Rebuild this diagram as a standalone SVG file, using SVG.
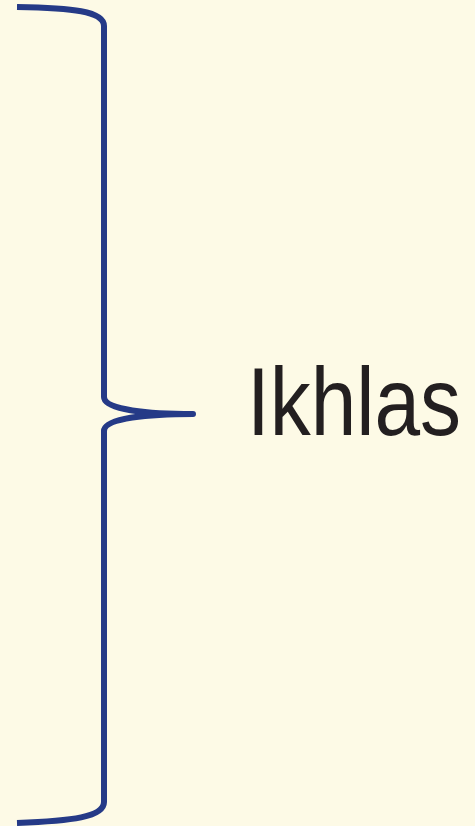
<svg xmlns="http://www.w3.org/2000/svg" width="475" height="826" viewBox="0 0 475 826">
<style>
.brace{fill:none;stroke:#253a87;stroke-width:6;stroke-linejoin:round;stroke-linecap:butt}
.label{font-family:"Liberation Sans",Arial,sans-serif;font-size:97px;fill:#231f20}
</style>
<rect width="475" height="826" fill="#fdfae6"/>
<g id="connectors">
<path class="brace" d="M17,7 C72,8 104,11 104,26 L104,397 C104,410 150,414 193,414 C150,414 104,418 104,431 L104,802 C104,817 72,821 17,823"/>
</g>
<g id="label-ikhlas">
<text class="label" transform="translate(247,435) scale(0.845,1)" x="0" y="0">Ikhlas</text>
</g>
</svg>
